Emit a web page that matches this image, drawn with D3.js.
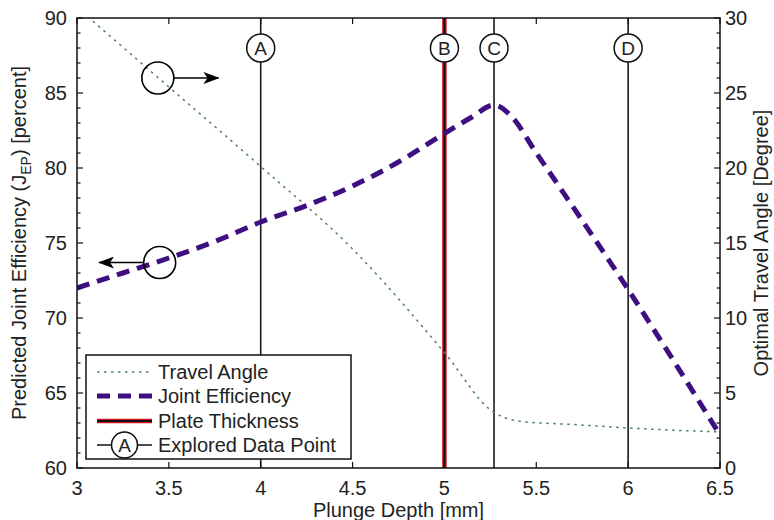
<!DOCTYPE html>
<html>
  <head>
    <meta charset="utf-8">
    <title>Joint Efficiency vs Plunge Depth</title>
    <script src="https://cdn.jsdelivr.net/npm/d3@7"></script>
    <style>
      body {margin:0; background:#fff;}
      text {font-family:"Liberation Sans", Arial, sans-serif; fill:#222;}
    </style>
  </head>
  <body>
  <script>
    // values
    var depthEff = [3, 3.25, 3.5, 3.75, 4, 4.25, 4.5, 4.75, 5, 5.15, 5.27, 5.36, 5.5, 5.75, 6, 6.25, 6.5];
    var jointEff = [72.0, 73.0, 74.0, 75.1, 76.4, 77.5, 78.8, 80.4, 82.3, 83.4, 84.2, 83.5, 81.0, 76.5, 71.9, 67.1, 62.2];

    var depthAngle = [3, 3.5, 4, 4.5, 5, 5.27, 5.33, 5.42, 5.7, 6, 6.5];
    var travelAngle = [30.7, 25.4, 20.1, 14.6, 7.7, 3.7, 3.35, 3.1, 2.9, 2.67, 2.4];

    var pointLabels = ["A", "B", "C", "D"];
    var pointDepths = [4, 5, 5.27, 6];
    var plateThickness = 5;

    var xTicks = [3, 3.5, 4, 4.5, 5, 5.5, 6, 6.5];
    var leftTicks = [60, 65, 70, 75, 80, 85, 90];
    var rightTicks = [0, 5, 10, 15, 20, 25, 30];

    var legendNames = ["Travel Angle", "Joint Efficiency", "Plate Thickness", "Explored Data Point"];

    var width = 774, height = 520;
    // plot box edges (note: "top" is reserved on window, so use p* names)
    var pLeft = 77, pRight = 720, pTop = 18, pBottom = 468;

    var svg = d3.select("body").append("svg")
        .attr("width", width)
        .attr("height", height);

    var x = d3.scaleLinear().domain([3, 6.5]).range([pLeft, pRight]);
    var yL = d3.scaleLinear().domain([60, 90]).range([pBottom, pTop]);
    var yR = d3.scaleLinear().domain([0, 30]).range([pBottom, pTop]);

    var defs = svg.append("defs");
    defs.append("clipPath").attr("id", "plot")
      .append("rect")
        .attr("x", pLeft).attr("y", pTop)
        .attr("width", pRight - pLeft).attr("height", pBottom - pTop);

    defs.append("marker")
        .attr("id", "head")
        .attr("viewBox", "0 0 16 12")
        .attr("refX", 15).attr("refY", 6)
        .attr("markerWidth", 16).attr("markerHeight", 12)
        .attr("markerUnits", "userSpaceOnUse")
        .attr("orient", "auto")
      .append("path")
        .attr("d", "M0,0 L16,6 L0,12 L4,6 Z")
        .attr("fill", "#000");

    var plot = svg.append("g").attr("clip-path", "url(#plot)");

    // vertical marker lines
    plot.selectAll("line.mark")
        .data(pointDepths)
        .enter()
        .append("line")
        .attr("class", "mark")
        .attr("x1", function(d) { return x(d); })
        .attr("x2", function(d) { return x(d); })
        .attr("y1", pTop).attr("y2", pBottom)
        .attr("stroke", "#1a1a1a")
        .attr("stroke-width", 1.6);

    // plate thickness line: red with black core
    plot.append("line")
        .attr("x1", x(plateThickness)).attr("x2", x(plateThickness))
        .attr("y1", pTop).attr("y2", pBottom)
        .attr("stroke", "#d0101e").attr("stroke-width", 4.5);
    plot.append("line")
        .attr("x1", x(plateThickness)).attr("x2", x(plateThickness))
        .attr("y1", pTop).attr("y2", pBottom)
        .attr("stroke", "#111").attr("stroke-width", 1.8);

    // travel angle (right axis)
    var angleLine = d3.line()
        .x(function(d, i) { return x(depthAngle[i]); })
        .y(function(d) { return yR(d); })
        .curve(d3.curveMonotoneX);

    plot.append("path")
        .attr("d", angleLine(travelAngle))
        .attr("fill", "none")
        .attr("stroke", "#4f8063")
        .attr("stroke-width", 1.5)
        .attr("stroke-dasharray", "2.5,4.5");

    // joint efficiency (left axis)
    var effLine = d3.line()
        .x(function(d, i) { return x(depthEff[i]); })
        .y(function(d) { return yL(d); })
        .curve(d3.curveMonotoneX);

    plot.append("path")
        .attr("d", effLine(jointEff))
        .attr("fill", "none")
        .attr("stroke", "#3e0f80")
        .attr("stroke-width", 5)
        .attr("stroke-dasharray", "13,8");

    // lettered circles on the marker lines
    var circY = 48;
    svg.selectAll("circle.pt")
        .data(pointDepths)
        .enter()
        .append("circle")
        .attr("class", "pt")
        .attr("cx", function(d) { return x(d); })
        .attr("cy", circY)
        .attr("r", 14)
        .attr("fill", "#fff")
        .attr("stroke", "#111")
        .attr("stroke-width", 1.5);

    svg.selectAll("text.pt")
        .data(pointDepths)
        .enter()
        .append("text")
        .attr("class", "pt")
        .attr("x", function(d) { return x(d); })
        .attr("y", circY + 7)
        .attr("text-anchor", "middle")
        .style("font-size", "19px")
        .text(function(d, i) { return pointLabels[i]; });

    // circle + arrow cues showing which axis each curve uses
    var cueR = 16;
    var aX = x(3.44), aY = yR(26.0);
    svg.append("circle").attr("cx", aX).attr("cy", aY).attr("r", cueR)
        .attr("fill", "none").attr("stroke", "#000").attr("stroke-width", 1.6);
    svg.append("line")
        .attr("x1", aX + cueR).attr("y1", aY)
        .attr("x2", x(3.77)).attr("y2", aY)
        .attr("stroke", "#000").attr("stroke-width", 1.6)
        .attr("marker-end", "url(#head)");

    var eX = x(3.45), eY = yL(73.7);
    svg.append("circle").attr("cx", eX).attr("cy", eY).attr("r", cueR)
        .attr("fill", "none").attr("stroke", "#000").attr("stroke-width", 1.6);
    svg.append("line")
        .attr("x1", eX - cueR).attr("y1", eY)
        .attr("x2", x(3.12)).attr("y2", eY)
        .attr("stroke", "#000").attr("stroke-width", 1.6)
        .attr("marker-end", "url(#head)");

    // axes box
    svg.append("rect")
        .attr("x", pLeft).attr("y", pTop)
        .attr("width", pRight - pLeft).attr("height", pBottom - pTop)
        .attr("fill", "none")
        .attr("stroke", "#111")
        .attr("stroke-width", 1.5);

    // x ticks (inward, bottom and top)
    var tickG = svg.append("g").attr("stroke", "#111").attr("stroke-width", 1.2);
    xTicks.forEach(function(t) {
        tickG.append("line").attr("x1", x(t)).attr("x2", x(t)).attr("y1", pBottom).attr("y2", pBottom - 6);
        tickG.append("line").attr("x1", x(t)).attr("x2", x(t)).attr("y1", pTop).attr("y2", pTop + 6);
    });
    // y ticks, major every 5 and minor every 1
    d3.range(60, 91).forEach(function(v) {
        var len = (v % 5 === 0) ? 6 : 3.5;
        tickG.append("line").attr("x1", pLeft).attr("x2", pLeft + len).attr("y1", yL(v)).attr("y2", yL(v));
    });
    d3.range(0, 31).forEach(function(v) {
        var len = (v % 5 === 0) ? 6 : 3.5;
        tickG.append("line").attr("x1", pRight).attr("x2", pRight - len).attr("y1", yR(v)).attr("y2", yR(v));
    });

    svg.selectAll("text.xt")
        .data(xTicks)
        .enter()
        .append("text")
        .attr("class", "xt")
        .attr("x", function(d) { return x(d); })
        .attr("y", 495)
        .attr("text-anchor", "middle")
        .style("font-size", "20px")
        .text(function(d) { return d; });

    svg.selectAll("text.yl")
        .data(leftTicks)
        .enter()
        .append("text")
        .attr("class", "yl")
        .attr("x", pLeft - 10)
        .attr("y", function(d) { return yL(d) + 7; })
        .attr("text-anchor", "end")
        .style("font-size", "20px")
        .text(function(d) { return d; });

    svg.selectAll("text.yr")
        .data(rightTicks)
        .enter()
        .append("text")
        .attr("class", "yr")
        .attr("x", pRight + 5)
        .attr("y", function(d) { return yR(d) + 7; })
        .attr("text-anchor", "start")
        .style("font-size", "20px")
        .text(function(d) { return d; });

    // axis titles
    svg.append("text")
        .attr("x", (pLeft + pRight) / 2)
        .attr("y", 517)
        .attr("text-anchor", "middle")
        .style("font-size", "20px")
        .text("Plunge Depth [mm]");

    var yTitle = svg.append("text")
        .attr("transform", "translate(26," + ((pTop + pBottom) / 2) + ") rotate(-90)")
        .attr("text-anchor", "middle")
        .style("font-size", "20px");
    yTitle.append("tspan").text("Predicted Joint Efficiency (J");
    yTitle.append("tspan").attr("dy", 5).style("font-size", "14px").text("EP");
    yTitle.append("tspan").attr("dy", -5).text(") [percent]");

    svg.append("text")
        .attr("transform", "translate(768," + ((pTop + pBottom) / 2) + ") rotate(-90)")
        .attr("text-anchor", "middle")
        .style("font-size", "20px")
        .text("Optimal Travel Angle [Degree]");

    // legend
    var lg = svg.append("g");
    lg.append("rect")
        .attr("x", 86).attr("y", 355)
        .attr("width", 265).attr("height", 104)
        .attr("fill", "#fff")
        .attr("stroke", "#111")
        .attr("stroke-width", 1.5);

    var rowY = [372, 396, 421, 445];
    var sx1 = 97, sx2 = 152;

    lg.append("line").attr("x1", sx1).attr("x2", sx2).attr("y1", rowY[0]).attr("y2", rowY[0])
        .attr("stroke", "#4f8063").attr("stroke-width", 1.5).attr("stroke-dasharray", "2.5,4.5");
    lg.append("line").attr("x1", sx1).attr("x2", sx2).attr("y1", rowY[1]).attr("y2", rowY[1])
        .attr("stroke", "#3e0f80").attr("stroke-width", 5).attr("stroke-dasharray", "13,8");
    lg.append("line").attr("x1", sx1).attr("x2", sx2).attr("y1", rowY[2]).attr("y2", rowY[2])
        .attr("stroke", "#d0101e").attr("stroke-width", 4.5);
    lg.append("line").attr("x1", sx1).attr("x2", sx2).attr("y1", rowY[2]).attr("y2", rowY[2])
        .attr("stroke", "#111").attr("stroke-width", 1.8);
    lg.append("line").attr("x1", sx1).attr("x2", sx2).attr("y1", rowY[3]).attr("y2", rowY[3])
        .attr("stroke", "#111").attr("stroke-width", 1.5);
    lg.append("circle").attr("cx", (sx1 + sx2) / 2).attr("cy", rowY[3]).attr("r", 13)
        .attr("fill", "#fff").attr("stroke", "#111").attr("stroke-width", 1.5);
    lg.append("text").attr("x", (sx1 + sx2) / 2).attr("y", rowY[3] + 7)
        .attr("text-anchor", "middle").style("font-size", "19px").text(pointLabels[0]);

    lg.selectAll("text.lg")
        .data(legendNames)
        .enter()
        .append("text")
        .attr("class", "lg")
        .attr("x", 158)
        .attr("y", function(d, i) { return rowY[i] + 7; })
        .style("font-size", "20px")
        .text(function(d) { return d; });
  </script>
  </body>
</html>
